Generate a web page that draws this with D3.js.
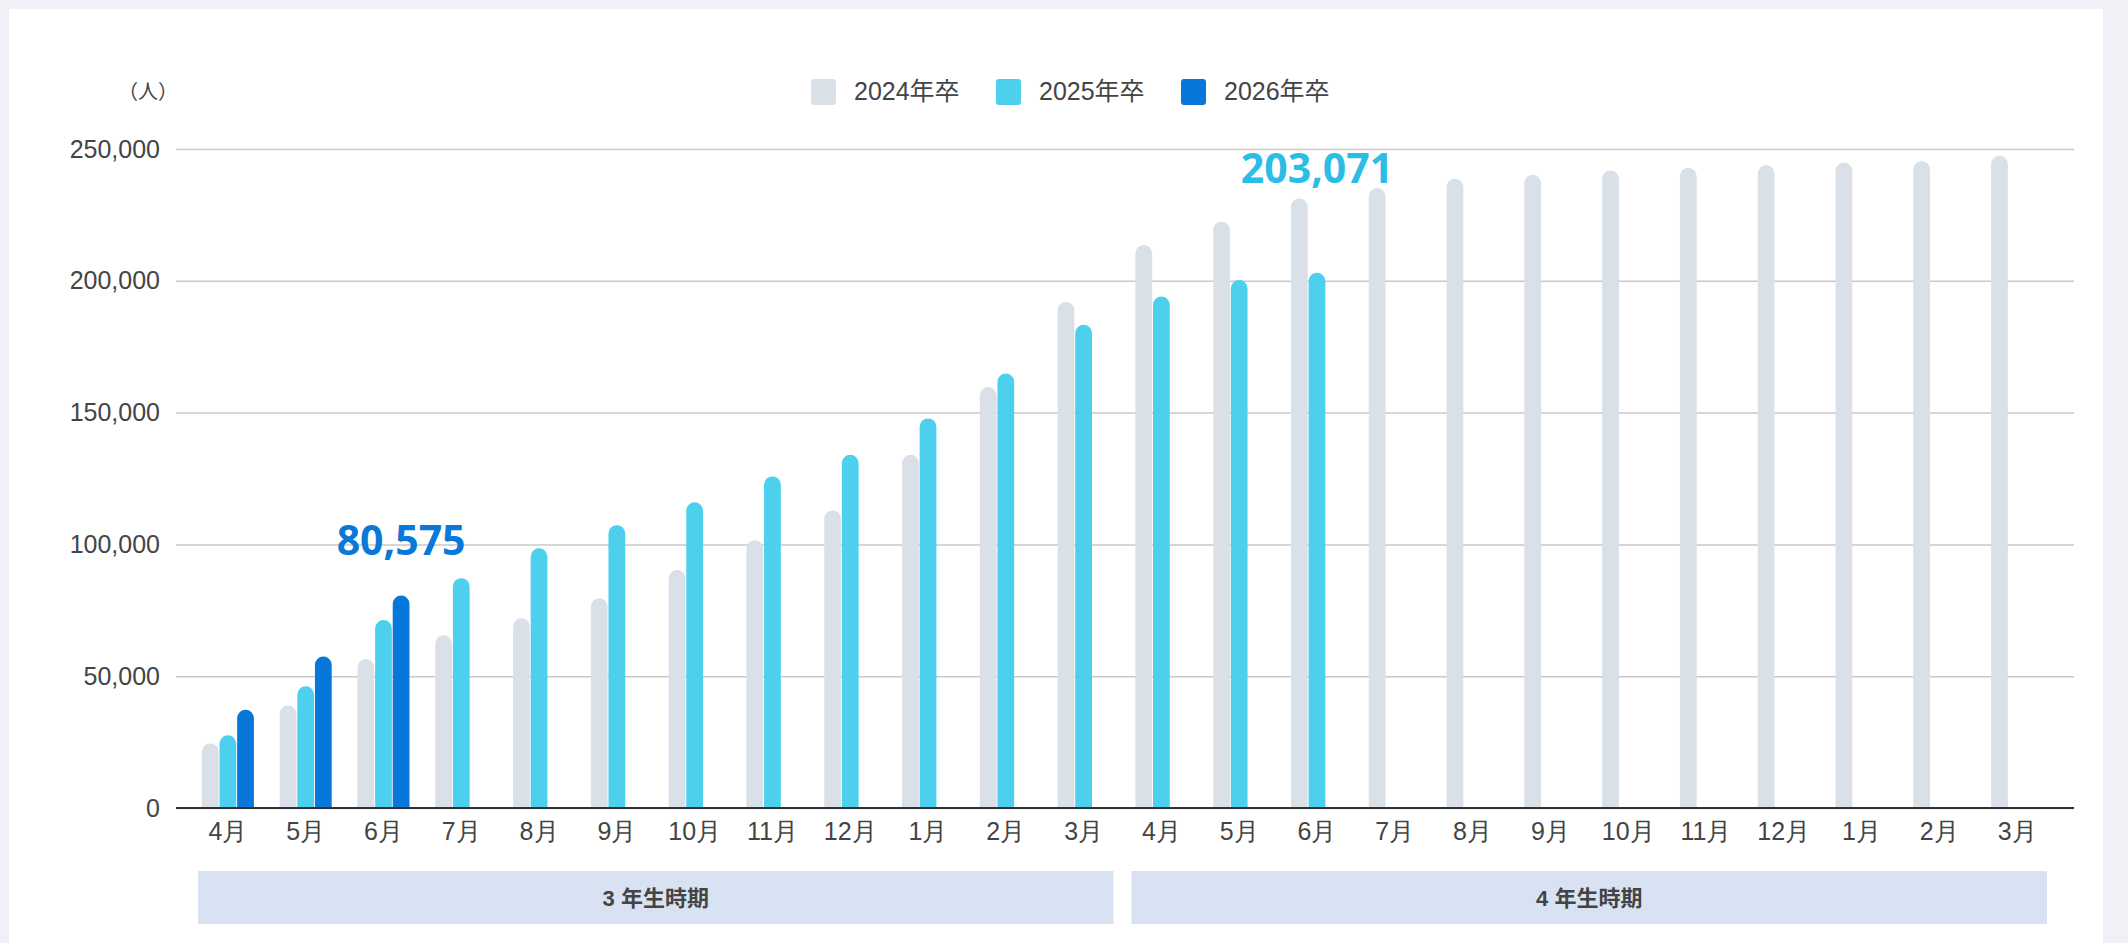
<!DOCTYPE html>
<html>
<head>
<meta charset="utf-8">
<script src="https://cdn.jsdelivr.net/npm/d3@7"></script>
<style>
  html, body { margin: 0; padding: 0; background: #eff1f6; }
  svg { display: block; font-family: "Liberation Sans", Arial, "Noto Sans CJK JP", sans-serif; }
</style>
</head>
<body>
<svg id="chart" width="2128" height="943"></svg>
<script>
// months on the x axis (two school years)
const months = ["4月","5月","6月","7月","8月","9月","10月","11月","12月","1月","2月","3月",
                "4月","5月","6月","7月","8月","9月","10月","11月","12月","1月","2月","3月"];
const seriesNames = ["2024年卒", "2025年卒", "2026年卒"];
const seriesColors = ["#d9e0e8", "#4cd0ee", "#0778d9"];

const grad2024 = [24500, 38900, 56500, 65500, 72000, 79600, 90300, 101600, 112900, 134000, 159700, 192000,
                  213600, 222400, 231200, 235200, 238700, 240200, 241800, 242800, 243800, 244900, 245400, 247400];
const grad2025 = [27600, 46200, 71300, 87200, 98500, 107300, 116000, 125800, 134000, 147800, 164800, 183300,
                  194000, 200300, 203071];
const grad2026 = [37300, 57500, 80575];

const yTicks = [0, 50000, 100000, 150000, 200000, 250000];
const periods = [
  { label: "3 年生時期", from: 0, to: 11 },
  { label: "4 年生時期", from: 12, to: 23 }
];
// callouts: which month, which series
const callouts = [
  { idx: 2, series: 2, value: 80575, color: "#0a78d8", lift: 41 },
  { idx: 14, series: 1, value: 203071, color: "#2bbde6", lift: 90 }
];

const svg = d3.select("#chart");
const allSeries = [grad2024, grad2025, grad2026];

const plotLeft = 176, plotRight = 2074;
const y = d3.scaleLinear().domain([0, 250000]).range([808, 149]);
const x = d3.scaleBand().domain(d3.range(months.length)).range([189, 2056]);
const groupW = 52;
const inner = d3.scaleBand().domain(d3.range(3)).range([0, groupW]).paddingInner(0.05);
const barX = (i, s) => x(i) + (x.bandwidth() - groupW) / 2 + inner(s);

// white panel
svg.append("rect").attr("x", 9).attr("y", 9).attr("width", 2094).attr("height", 940).attr("fill", "#fff");

// y axis + grid
const yAxis = svg.append("g")
  .attr("transform", `translate(${plotLeft},0)`)
  .call(d3.axisLeft(y).tickValues(yTicks).tickFormat(d3.format(",")).tickSize(-(plotRight - plotLeft)).tickPadding(16));
yAxis.select(".domain").remove();
yAxis.selectAll(".tick line").attr("stroke", "#c9c9c9").attr("stroke-width", 1.5);
yAxis.selectAll(".tick text").attr("fill", "#444").attr("font-size", 25);

svg.append("text").attr("x", 148).attr("y", 99).attr("text-anchor", "middle")
  .attr("fill", "#444").attr("font-size", 20).text("（人）");

// bars, rounded top
const roundTop = (bx, by, w, h) => {
  const r = Math.min(w / 2, h);
  return `M${bx},${by + h}V${by + r}A${r},${r} 0 0 1 ${bx + r},${by}H${bx + w - r}A${r},${r} 0 0 1 ${bx + w},${by + r}V${by + h}Z`;
};
allSeries.forEach((vals, s) => {
  svg.append("g").selectAll("path")
    .data(vals.map((v, i) => ({ v, i })))
    .join("path")
    .attr("fill", seriesColors[s])
    .attr("d", d => roundTop(barX(d.i, s), y(d.v), inner.bandwidth(), y(0) - y(d.v)));
});

// x axis
const xAxis = svg.append("g")
  .attr("transform", `translate(0,${y(0)})`)
  .call(d3.axisBottom(x).tickFormat(i => months[i]).tickSize(0).tickPadding(14));
xAxis.select(".domain").remove();
xAxis.selectAll(".tick text").attr("fill", "#444").attr("font-size", 25);
svg.append("line").attr("x1", plotLeft).attr("x2", plotRight).attr("y1", y(0)).attr("y2", y(0))
  .attr("stroke", "#333").attr("stroke-width", 2);

// callout numbers
svg.selectAll(".callout").data(callouts).join("text")
  .attr("class", "callout")
  .attr("x", d => barX(d.idx, d.series) + inner.bandwidth() / 2)
  .attr("y", d => y(d.value) - d.lift)
  .attr("text-anchor", "middle")
  .attr("fill", d => d.color)
  .attr("font-family", "'Open Sans', 'Noto Sans', sans-serif")
  .attr("font-weight", 700).attr("font-size", 41)
  .text(d => d3.format(",")(d.value));

// period bands
const bandG = svg.append("g");
periods.forEach(p => {
  const x0 = x(p.from) + 9, x1 = x(p.to) + x.bandwidth() - 9;
  bandG.append("rect").attr("x", x0).attr("y", 871).attr("width", x1 - x0).attr("height", 53).attr("fill", "#d9e2f2");
  bandG.append("text").attr("x", (x0 + x1) / 2).attr("y", 906).attr("text-anchor", "middle")
    .attr("fill", "#444").attr("font-size", 22).attr("font-weight", 700).text(p.label);
});

// legend
const legendX = [811, 996, 1181];
const lg = svg.append("g").selectAll("g").data(seriesNames).join("g")
  .attr("transform", (d, i) => `translate(${legendX[i]},79)`);
lg.append("rect").attr("width", 25).attr("height", 26).attr("rx", 3).attr("fill", (d, i) => seriesColors[i]);
lg.append("text").attr("x", 43).attr("y", 21).attr("fill", "#444").attr("font-size", 25).text(d => d);
</script>
</body>
</html>
